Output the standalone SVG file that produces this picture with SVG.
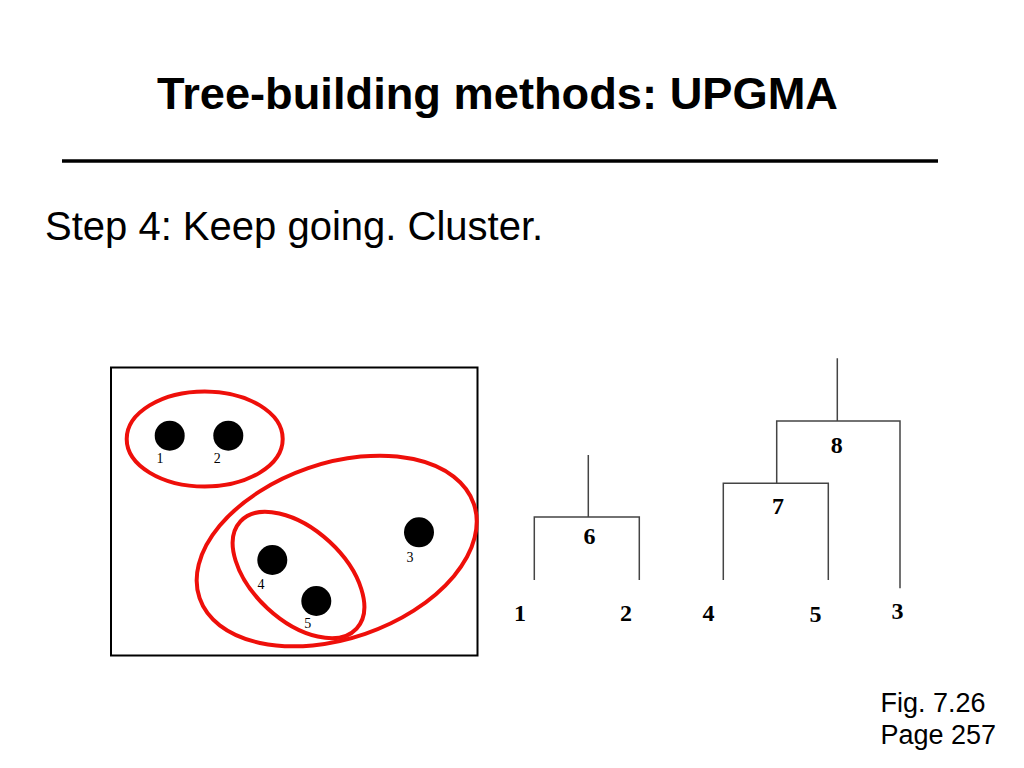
<svg xmlns="http://www.w3.org/2000/svg" width="1024" height="768" viewBox="0 0 1024 768">
<style>
.sans{font-family:"Liberation Sans",Arial,sans-serif;fill:#000}
.lbl{font-family:"Liberation Serif","Times New Roman",serif;font-weight:bold;font-size:24px;fill:#000;text-anchor:middle}
.pt{font-family:"Liberation Serif","Times New Roman",serif;font-size:14px;fill:#000;text-anchor:middle}
.clu{fill:none;stroke:#ee0f0a;stroke-width:4}
.dot{fill:#000}
.br{fill:none;stroke:#444;stroke-width:1.5}
</style>
<rect width="1024" height="768" fill="#fff"/>
<g id="title">
<text class="sans" x="497.5" y="109" font-size="45" font-weight="bold" text-anchor="middle" textLength="681" lengthAdjust="spacingAndGlyphs">Tree-building methods: UPGMA</text>
<line x1="62" y1="161" x2="938" y2="161" stroke="#000" stroke-width="3.5"/>
</g>
<text class="sans" x="45" y="240" font-size="40">Step 4: Keep going. Cluster.</text>
<g id="panel">
<rect x="111" y="367.5" width="366.5" height="288" fill="none" stroke="#000" stroke-width="2"/>
</g>
<g id="cluster-12"><ellipse class="clu" cx="204.7" cy="439" rx="78" ry="47.5"/></g>
<g id="cluster-453"><ellipse class="clu" cx="336.7" cy="551" rx="145" ry="87.6" transform="rotate(-19 336.7 551)"/></g>
<g id="cluster-45"><ellipse class="clu" cx="298.5" cy="575" rx="79" ry="45.5" transform="rotate(42.7 298.5 575)"/></g>
<g id="pt1"><circle class="dot" cx="169.7" cy="435.7" r="15"/><text class="pt" x="160" y="463">1</text></g>
<g id="pt2"><circle class="dot" cx="228.3" cy="435.7" r="15"/><text class="pt" x="217.3" y="463">2</text></g>
<g id="pt3"><circle class="dot" cx="419" cy="532.3" r="15"/><text class="pt" x="410" y="561.5">3</text></g>
<g id="pt4"><circle class="dot" cx="272.3" cy="560" r="15"/><text class="pt" x="261" y="589">4</text></g>
<g id="pt5"><circle class="dot" cx="316.3" cy="601" r="15"/><text class="pt" x="307.7" y="628">5</text></g>
<g id="connectors">
<path class="br" d="M588.3 455 V517 M534.3 580 V517 H639.3 V580"/>
<path class="br" d="M723.3 580 V483.3 H828.3 V580 M776.7 483.3 V421 H900 V588.3 M837.3 358.3 V421"/>
</g>
<g id="node6"><text class="lbl" x="589.5" y="544">6</text></g>
<g id="node7"><text class="lbl" x="778" y="514">7</text></g>
<g id="node8"><text class="lbl" x="836.7" y="452.5">8</text></g>
<g id="leaf1"><text class="lbl" x="520" y="620.5">1</text></g>
<g id="leaf2"><text class="lbl" x="626" y="620.5">2</text></g>
<g id="leaf4"><text class="lbl" x="708.5" y="620.5">4</text></g>
<g id="leaf5"><text class="lbl" x="815.5" y="621.5">5</text></g>
<g id="leaf3"><text class="lbl" x="897.5" y="618.5">3</text></g>
<g id="caption">
<text class="sans" x="880.5" y="711.7" font-size="27">Fig. 7.26</text>
<text class="sans" x="880.5" y="744" font-size="27">Page 257</text>
</g>
</svg>
